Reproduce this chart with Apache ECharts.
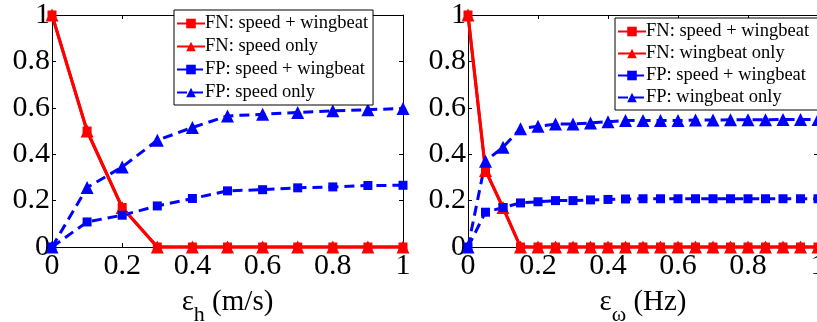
<!DOCTYPE html>
<html>
<head>
<meta charset="utf-8">
<script src="https://cdn.jsdelivr.net/npm/echarts@6/dist/echarts.min.js"></script>
<style>html,body{margin:0;padding:0;background:#fff;}#c{width:817px;height:322px;}</style>
</head>
<body>
<div id="c"></div>
<script>
// ---- Data: left panel (epsilon_h, m/s) ----
var epsH = [0, 0.1, 0.2, 0.3, 0.4, 0.5, 0.6, 0.7, 0.8, 0.9, 1.0];
var fnSpeedWingL = [1, 0.5, 0.17, 0, 0, 0, 0, 0, 0, 0, 0];
var fnSpeedOnly  = [1, 0.5, 0.17, 0, 0, 0, 0, 0, 0, 0, 0];
var fpSpeedWingL = [0, 0.108, 0.137, 0.177, 0.209, 0.242, 0.247, 0.255, 0.259, 0.265, 0.266];
var fpSpeedOnly  = [0, 0.256, 0.345, 0.46, 0.515, 0.565, 0.572, 0.58, 0.587, 0.592, 0.597];

// ---- Data: right panel (epsilon_omega, Hz) ----
var epsW = [0, 0.05, 0.1, 0.15, 0.2, 0.25, 0.3, 0.35, 0.4, 0.45, 0.5, 0.55, 0.6, 0.65, 0.7, 0.75, 0.8, 0.85, 0.9, 0.95, 1.0];
var fnSpeedWingR = [1, 0.33, 0.17, 0, 0, 0, 0, 0, 0, 0, 0, 0, 0, 0, 0, 0, 0, 0, 0, 0, 0];
var fnWingOnly   = [1, 0.33, 0.17, 0, 0, 0, 0, 0, 0, 0, 0, 0, 0, 0, 0, 0, 0, 0, 0, 0, 0];
var fpSpeedWingR = [0, 0.15, 0.17, 0.19, 0.195, 0.2, 0.2, 0.203, 0.205, 0.207, 0.208, 0.208, 0.208, 0.208, 0.208, 0.208, 0.208, 0.208, 0.208, 0.208, 0.208];
var fpWingOnly   = [0, 0.37, 0.43, 0.51, 0.52, 0.53, 0.53, 0.535, 0.54, 0.545, 0.545, 0.545, 0.545, 0.547, 0.547, 0.548, 0.548, 0.548, 0.55, 0.55, 0.55];

var namesL = ['FN: speed + wingbeat', 'FN: speed only', 'FP: speed + wingbeat', 'FP: speed only'];
var namesR = ['FN: speed + wingbeat ', 'FN: wingbeat only', 'FP: speed + wingbeat ', 'FP: wingbeat only'];

function pairs(xs, ys) { return xs.map(function (x, i) { return [x, ys[i]]; }); }

var FONT = 'Liberation Serif';
var RED = '#ff0000', BLUE = '#0000ff';

function mkSeries(name, xi, yi, xs, ys, color, dashed, symbol) {
  return {
    name: name, type: 'line', xAxisIndex: xi, yAxisIndex: yi,
    data: pairs(xs, ys),
    symbol: symbol, symbolSize: symbol === 'triangle' ? 13 : 9,
    showAllSymbol: true,
    lineStyle: { color: color, width: 3, type: dashed ? [10, 6] : 'solid' },
    itemStyle: { color: color },
    emphasis: { disabled: true },
    animation: false, clip: false
  };
}

function xAx(gi, name, pos, show) {
  return {
    type: 'value', gridIndex: gi, min: 0, max: 1, interval: 0.2, position: pos,
    name: show ? name : '', nameLocation: 'middle', nameGap: 31,
    nameTextStyle: { fontFamily: FONT, fontSize: 29, color: '#000',
      rich: { e: { fontFamily: FONT, fontSize: 29, color: '#000' },
              s: { fontFamily: FONT, fontSize: 22, color: '#000', padding: [26, 0, 0, 0] },
              t: { fontFamily: FONT, fontSize: 29, color: '#000' } } },
    axisLine: { show: true, onZero: false, lineStyle: { color: '#000', width: 1 } },
    axisTick: { show: true, inside: true, length: 4, lineStyle: { color: '#000' } },
    axisLabel: { show: show, fontFamily: FONT, fontSize: 30, color: '#000', margin: 4,
      formatter: function (v) { return String(+v.toFixed(1)); } },
    splitLine: { show: false }
  };
}
function yAx(gi, pos, show) {
  return {
    type: 'value', gridIndex: gi, min: 0, max: 1, interval: 0.2, position: pos,
    axisLine: { show: true, onZero: false, lineStyle: { color: '#000', width: 1 } },
    axisTick: { show: true, inside: true, length: 4, lineStyle: { color: '#000' } },
    axisLabel: { show: show, fontFamily: FONT, fontSize: 30, color: '#000', margin: 2,
      formatter: function (v) { return String(+v.toFixed(1)); } },
    splitLine: { show: false }
  };
}

var chart = echarts.init(document.getElementById('c'), null, { renderer: 'canvas' });
var option = {
  backgroundColor: '#fff',
  animation: false,
  textStyle: { fontFamily: FONT },
  grid: [
    { left: 52, top: 15, width: 351, height: 232, outerBoundsMode: 'none', containLabel: false },
    { left: 468, top: 15, width: 350, height: 232, outerBoundsMode: 'none', containLabel: false }
  ],
  xAxis: [
    xAx(0, '{e|ε}{s|h}{t| (m/s)}', 'bottom', true),
    xAx(0, '', 'top', false),
    xAx(1, '{e|ε}{s|ω}{t| (Hz)}', 'bottom', true),
    xAx(1, '', 'top', false)
  ],
  yAxis: [
    yAx(0, 'left', true), yAx(0, 'right', false),
    yAx(1, 'left', true), yAx(1, 'right', false)
  ],
  legend: [
    { data: namesL, left: 174, top: 10, orient: 'vertical', itemGap: 4, itemWidth: 28, itemHeight: 12,
      padding: [4, 5, 3, 2], backgroundColor: '#fff', borderColor: '#000', borderWidth: 1,
      textStyle: { fontFamily: FONT, fontSize: 18.5, color: '#000', padding: [0, 0, 0, -5] }, selectedMode: false },
    { data: namesR, left: 615, top: 18, orient: 'vertical', itemGap: 3, itemWidth: 28, itemHeight: 12,
      padding: [4, 5, 3, 2], backgroundColor: '#fff', borderColor: '#000', borderWidth: 1,
      textStyle: { fontFamily: FONT, fontSize: 18.5, color: '#000', padding: [0, 0, 0, -5] }, selectedMode: false }
  ],
  series: [
    mkSeries(namesL[0], 0, 0, epsH, fnSpeedWingL, RED, false, 'rect'),
    mkSeries(namesL[1], 0, 0, epsH, fnSpeedOnly, RED, false, 'triangle'),
    mkSeries(namesL[2], 0, 0, epsH, fpSpeedWingL, BLUE, true, 'rect'),
    mkSeries(namesL[3], 0, 0, epsH, fpSpeedOnly, BLUE, true, 'triangle'),
    mkSeries(namesR[0], 2, 2, epsW, fnSpeedWingR, RED, false, 'rect'),
    mkSeries(namesR[1], 2, 2, epsW, fnWingOnly, RED, false, 'triangle'),
    mkSeries(namesR[2], 2, 2, epsW, fpSpeedWingR, BLUE, true, 'rect'),
    mkSeries(namesR[3], 2, 2, epsW, fpWingOnly, BLUE, true, 'triangle')
  ]
};
chart.setOption(option);
</script>
</body>
</html>
